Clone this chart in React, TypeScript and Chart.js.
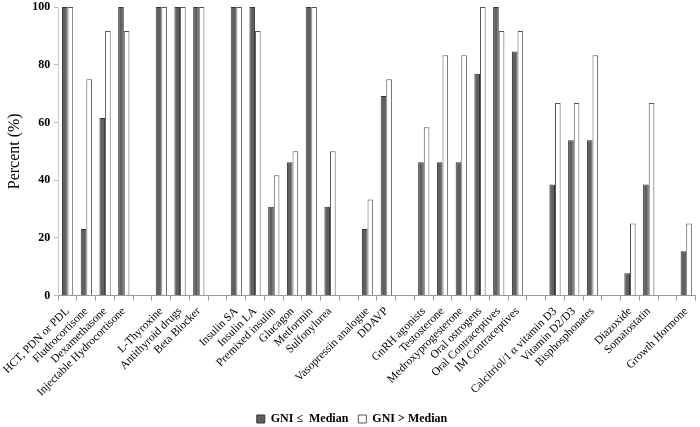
import React, { useEffect, useRef } from "react";
import { Chart, registerables } from "chart.js";

Chart.register(...registerables);

const categories: string[] = [
  "HCT, PDN or PDL",
  "Fludrocortisone",
  "Dexamethasone",
  "Injectable Hydrocortisone",
  "",
  "L-Thyroxine",
  "Antithyroid drugs",
  "Beta Blocker",
  "",
  "Insulin SA",
  "Insulin LA",
  "Premixed insulin",
  "Glucagon",
  "Metformin",
  "Sulfonylurea",
  "",
  "Vasopressin analogue",
  "DDAVP",
  "",
  "GnRH agonists",
  "Testosterone",
  "Medroxyprogesterone",
  "Oral ostrogens",
  "Oral Contraceptives",
  "IM Contraceptives",
  "",
  "Calcitriol/1 α vitamin D3",
  "Vitamin D2/D3",
  "Bisphosphonates",
  "",
  "Diazoxide",
  "Somatostatin",
  "",
  "Growth Hormone",
];

const gniLowMedian: (number | null)[] = [
  100, 23.1, 61.5, 100, null,
  100, 100, 100, null,
  100, 100, 30.8, 46.2, 100, 30.8, null,
  23.1, 69.2, null,
  46.2, 46.2, 46.2, 76.9, 100, 84.6, null,
  38.5, 53.8, 53.8, null,
  7.7, 38.5, null,
  15.4,
];

const gniHighMedian: (number | null)[] = [
  100, 75, 91.7, 91.7, null,
  100, 100, 100, null,
  100, 91.7, 41.7, 50, 100, 50, null,
  33.3, 75, null,
  58.3, 83.3, 83.3, 100, 91.7, 91.7, null,
  66.7, 66.7, 83.3, null,
  25, 66.7, null,
  25,
];

const yTicks: number[] = [0, 20, 40, 60, 80, 100];

const SERIF = "'Liberation Serif', 'Times New Roman', serif";

export default function App() {
  const ref = useRef<HTMLCanvasElement | null>(null);

  useEffect(() => {
    if (!ref.current) return;
    const chart = new Chart(ref.current, {
      type: "bar",
      data: {
        labels: categories,
        datasets: [
          {
            label: "GNI \u2264  Median",
            data: gniLowMedian,
            backgroundColor: "#606060",
            borderColor: "#333333",
            borderWidth: 1,
            categoryPercentage: 0.6,
            barPercentage: 1.0,
          },
          {
            label: "GNI > Median",
            data: gniHighMedian,
            backgroundColor: "#ffffff",
            borderColor: "#555555",
            borderWidth: 1,
            categoryPercentage: 0.6,
            barPercentage: 1.0,
          },
        ],
      },
      options: {
        animation: false,
        responsive: true,
        maintainAspectRatio: false,
        layout: { padding: { left: 5, right: 1, top: -13, bottom: -8 } },
        plugins: {
          legend: {
            position: "bottom",
            labels: {
              boxWidth: 8,
              boxHeight: 8,
              padding: 10,
              color: "#000",
              font: { family: SERIF, size: 12, weight: "bold" },
            },
          },
          tooltip: { enabled: false },
        },
        scales: {
          x: {
            grid: {
              display: true,
              drawOnChartArea: false,
              drawTicks: true,
              tickLength: 5,
              color: "#999999",
              offset: true,
            },
            border: { display: true, color: "#999999" },
            ticks: {
              autoSkip: false,
              minRotation: 45,
              maxRotation: 45,
              color: "#000",
              padding: 4,
              font: { family: SERIF, size: 11.5 },
            },
          },
          y: {
            min: 0,
            max: 100,
            afterBuildTicks: (axis: any) => {
              axis.ticks = yTicks.map((v) => ({ value: v }));
            },
            grid: {
              display: true,
              drawOnChartArea: false,
              drawTicks: true,
              tickLength: 4,
              color: "#bbbbbb",
            },
            border: { display: true, color: "#cccccc" },
            ticks: {
              color: "#000",
              padding: 4,
              font: { family: SERIF, size: 12, weight: "bold", lineHeight: 0.5 },
            },
            title: {
              display: true,
              text: "Percent (%)",
              color: "#000",
              padding: { top: 0, bottom: 4 },
              font: { family: SERIF, size: 16 },
            },
          },
        },
      },
    });
    return () => chart.destroy();
  }, []);

  return (
    <div style={{ position: "absolute", left: 0, top: 0, width: 700, height: 427, background: "#fff" }}>
      <canvas ref={ref} />
    </div>
  );
}
